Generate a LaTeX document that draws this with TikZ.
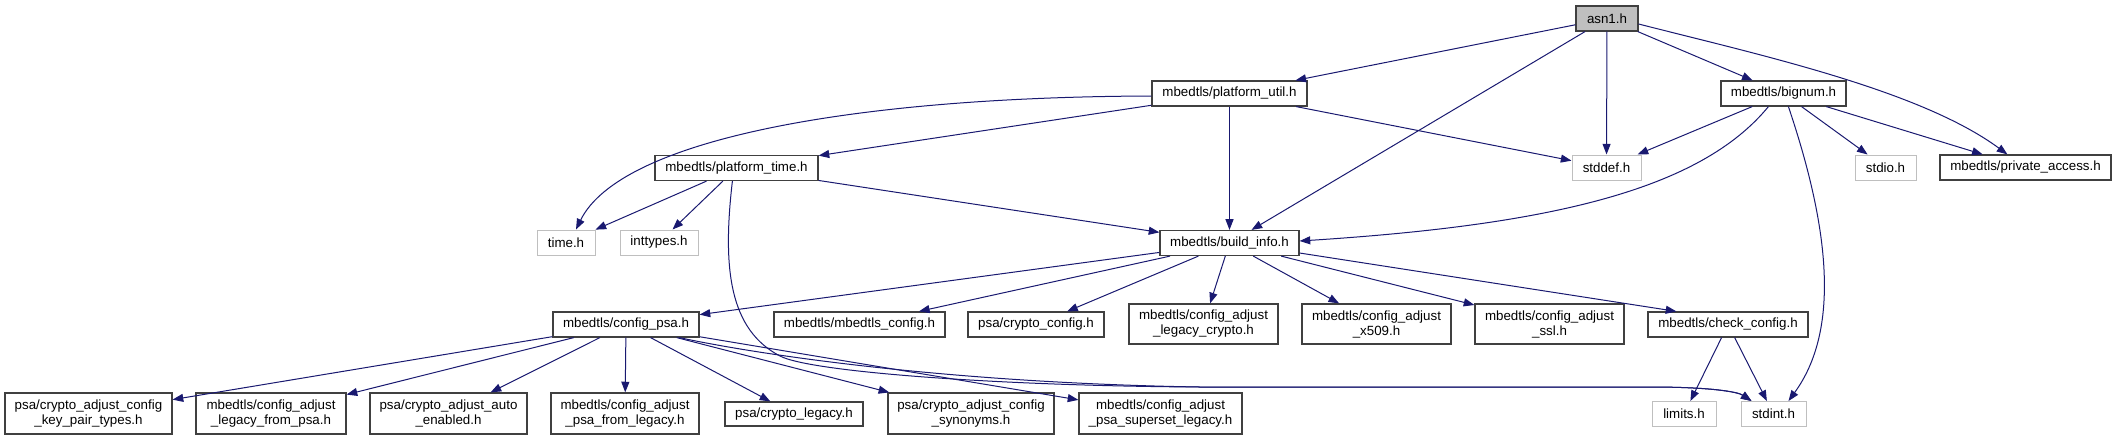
\documentclass[tikz,border=0pt]{standalone}
\usepackage{fontspec}
\setmainfont{Liberation Sans}
\usetikzlibrary{arrows.meta,calc}
\definecolor{edgec}{HTML}{191970}
\definecolor{grayb}{HTML}{BFBFBF}
\definecolor{darkb}{HTML}{404040}
\begin{document}
\begin{tikzpicture}[x=0.75pt,y=-0.75pt,
  bw/.style={minimum width=#1*0.75pt},
  bh/.style={minimum height=#1*0.75pt},
  box/.style={draw=darkb,line width=0.9pt,inner sep=0pt,align=center,
    font=\fontsize{10}{11.25}\selectfont,minimum height=18.75pt},
  ext/.style={box,draw=grayb,line width=0.75pt},
  e/.style={draw=edgec,line width=0.75pt,-{Triangle[length=8pt,width=6pt]}},
  ]
\useasboundingbox (0,0) rectangle (2117,440);
% rank 1
\node[box,fill=grayb,bw=62] (asn1) at (1607,18.5) {asn1.h};
% rank 2
\node[box,bw=155] (putil) at (1229.5,93.5) {mbedtls/platform\_util.h};
\node[box,bw=125] (bignum) at (1783.5,93.5) {mbedtls/bignum.h};
% rank 3
\node[box,bw=163] (ptime) at (736.5,168) {mbedtls/platform\_time.h};
\node[ext,bw=69] (stddef) at (1606.5,167.5) {stddef.h};
\node[ext,bw=61] (stdio) at (1885.5,167.5) {stdio.h};
\node[box,bw=171] (privacc) at (2025.5,167.5) {mbedtls/private\_access.h};
% rank 4
\node[ext,bw=58] (time) at (566,242.5) {time.h};
\node[ext,bw=78] (inttypes) at (659,242.5) {inttypes.h};
\node[box,bw=139] (build) at (1229.5,243) {mbedtls/build\_info.h};
% rank 5
\node[box,bw=146] (cpsa) at (626,324.5) {mbedtls/config\_psa.h};
\node[box,bw=171] (mbconf) at (859.5,324.5) {mbedtls/mbedtls\_config.h};
\node[box,bw=136] (cconf) at (1036,324.5) {psa/crypto\_config.h};
\node[box,bw=149,bh=40] (legcrypto) at (1203.5,324) {mbedtls/config\_adjust\\\_legacy\_crypto.h};
\node[box,bw=149,bh=40] (x509) at (1376.5,324) {mbedtls/config\_adjust\\\_x509.h};
\node[box,bw=149,bh=40] (ssl) at (1549.5,324) {mbedtls/config\_adjust\\\_ssl.h};
\node[box,bw=160] (check) at (1728,324.5) {mbedtls/check\_config.h};
% rank 6
\node[box,bw=167,bh=41] (keypair) at (88.5,413.5) {psa/crypto\_adjust\_config\\\_key\_pair\_types.h};
\node[box,bw=150,bh=41] (legfrompsa) at (271,413.5) {mbedtls/config\_adjust\\\_legacy\_from\_psa.h};
\node[box,bw=157,bh=41] (autoen) at (448.5,413.5) {psa/crypto\_adjust\_auto\\\_enabled.h};
\node[box,bw=148,bh=41] (psafromleg) at (625,413.5) {mbedtls/config\_adjust\\\_psa\_from\_legacy.h};
\node[box,bw=138,bh=24] (clegacy) at (794,414) {psa/crypto\_legacy.h};
\node[box,bw=166,bh=41] (synonyms) at (971,413.5) {psa/crypto\_adjust\_config\\\_synonyms.h};
\node[box,bw=163,bh=41] (superset) at (1160.5,413.5) {mbedtls/config\_adjust\\\_psa\_superset\_legacy.h};
\node[ext,bw=64] (limits) at (1684,414) {limits.h};
\node[ext,bw=65] (stdint) at (1773.5,414) {stdint.h};

% edges from asn1
\draw[e] (asn1) -- (putil);
\draw[e] (asn1) -- (build);
\draw[e] (asn1) -- (stddef);
\draw[e] (asn1) -- (bignum);
\draw[e] ($(asn1.east)+(0,5.5)$) .. controls (1760,55) and (1920,90) .. ($(privacc.north west)+(68,0)$);
% edges from platform_util
\draw[e] ($(putil.west)+(0,2.5)$) .. controls (850,97) and (620,140) .. ($(time.north)+(10,0)$);
\draw[e] (putil) -- (ptime);
\draw[e] (putil) -- (build);
\draw[e] (putil) -- (stddef);
% edges from platform_time
\draw[e] (ptime) -- (time);
\draw[e] (ptime) -- (inttypes);
\draw[e] (ptime) -- (build);
\draw[e] ($(ptime.south west)+(78,0)$) .. controls (722,270) and (730,330) .. (780,356)
  .. controls (810,372) and (1000,386) .. (1200,387) -- (1650,387)
  .. controls (1712,387) and (1738,392) .. ($(stdint.north west)+(11,0)$);
% edges from bignum
\draw[e] (bignum) -- (stddef);
\draw[e] (bignum) -- (stdio);
\draw[e] (bignum) -- (privacc);
\draw[e] ($(bignum.south west)+(48,0)$) .. controls (1700,190) and (1550,225) .. ($(build.east)+(0,-2)$);
\draw[e] ($(bignum.south west)+(68,0)$) .. controls (1830,230) and (1840,330) .. ($(stdint.north west)+(48,0)$);
% edges from build_info
\draw[e] (build) -- (cpsa);
\draw[e] (build) -- (mbconf);
\draw[e] (build) -- (cconf);
\draw[e] (build) -- (legcrypto);
\draw[e] (build) -- (x509);
\draw[e] (build) -- (ssl);
\draw[e] ($(build.east)+(0,10)$) -- ($(check.north west)+(29,0)$);
% edges from config_psa
\draw[e] (cpsa) -- (keypair);
\draw[e] (cpsa) -- (legfrompsa);
\draw[e] (cpsa) -- (autoen);
\draw[e] (cpsa) -- (psafromleg);
\draw[e] (cpsa) -- (clegacy);
\draw[e] (cpsa) -- (synonyms);
\draw[e] (cpsa) -- (superset);
\draw[e] ($(cpsa.south west)+(127,0)$) .. controls (760,355) and (950,383) .. (1200,387) -- (1650,387)
  .. controls (1712,387) and (1738,392) .. ($(stdint.north west)+(11,0)$);
% edges from check_config
\draw[e] (check) -- (limits);
\draw[e] (check) -- (stdint);
\end{tikzpicture}
\end{document}
